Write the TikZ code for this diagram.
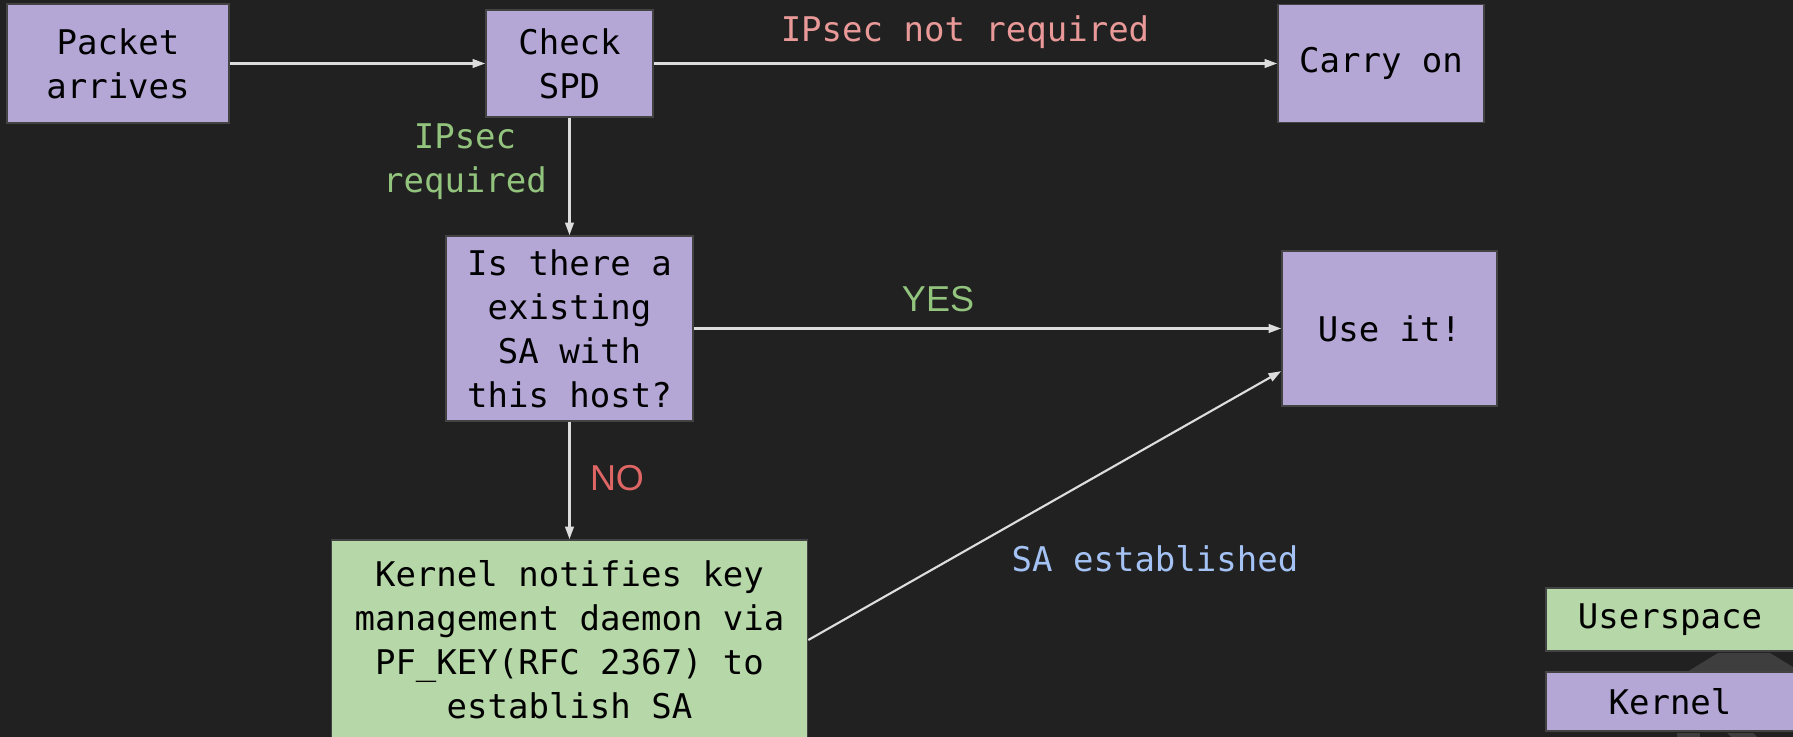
\documentclass[tikz,border=0pt]{standalone}
\usepackage{fontspec}
\usetikzlibrary{arrows.meta}
\newfontfamily\dejamono{DejaVu Sans Mono}
\newfontfamily\libsans{Liberation Sans}
\definecolor{bgcol}{HTML}{212121}
\definecolor{kernelcol}{HTML}{B4A7D6}
\definecolor{usercol}{HTML}{B6D7A8}
\definecolor{boxedge}{HTML}{434343}
\definecolor{arrowcol}{HTML}{DDDDDD}
\definecolor{notreq}{HTML}{EA9999}
\definecolor{yescol}{HTML}{93C47D}
\definecolor{nocol}{HTML}{E06666}
\definecolor{sacol}{HTML}{A4C2F4}
\definecolor{shadecol}{HTML}{3E3E3E}
\tikzset{
	kbox/.style={draw=boxedge, line width=1.2pt, fill=kernelcol, align=center, inner sep=0pt,
		font=\dejamono\fontsize{25.5}{33}\selectfont},
	ubox/.style={kbox, fill=usercol},
	flow/.style={->, draw=arrowcol, line width=1.6pt},
	lbl/.style={font=\dejamono\fontsize{25.5}{33}\selectfont, align=center},
	yn/.style={font=\libsans\fontsize{27}{32}\selectfont}
}
\begin{document}
\begin{tikzpicture}[x=0.75pt, y=-0.75pt, >={Triangle[length=9.5pt,width=6.5pt]}]
		\fill [bgcol] (0,0) rectangle (1793,737);
		\useasboundingbox (0,0) rectangle (1793,737);
		\clip (0,0) rectangle (1793,737);
		% flow boxes
		\node [kbox, minimum width=166.5pt, minimum height=89.25pt] (pa) at (118,63.5) {Packet\\arrives};
		\node [kbox, minimum width=125.25pt, minimum height=80.25pt] (spd) at (569.5,63.5) {Check\\SPD};
		\node [kbox, minimum width=154.5pt, minimum height=88.5pt] (carry) at (1381,63.5) {Carry on};
		\node [kbox, minimum width=185.25pt, minimum height=138.75pt] (sa) at (569.5,328.5) {Is there a\\existing\\SA with\\this host?};
		\node [kbox, minimum width=161.25pt, minimum height=116.25pt] (use) at (1389.5,328.5) {Use it!};
		\node [ubox, minimum width=357pt, minimum height=150pt] (kern) at (569.5,640) {Kernel notifies key\\management daemon via\\PF\_KEY(RFC 2367) to\\establish SA};
		% legend
		\fill [shadecol] (1687,672) -- (1718,653) -- (1770,653) -- (1801,672) -- cycle;
		\fill [shadecol] (1677,733) rectangle (1700,737);
		\fill [shadecol] (1727,733) -- (1753,733) -- (1757,737) -- (1731,737) -- cycle;
		\node [ubox, minimum width=186pt, minimum height=47.25pt] (uleg) at (1670,619.5) {Userspace};
		\node [kbox, minimum width=186pt, minimum height=44.25pt] (kleg) at (1670,701.5) {Kernel};
		% connectors
		\draw [flow] (pa) -- (spd);
		\draw [flow] (spd) -- (carry);
		\draw [flow] (spd) -- (sa);
		\draw [flow] (sa) -- (use);
		\draw [flow] (sa) -- (kern);
		\draw [flow] (kern.east) -- ([yshift=-32pt]use.west);
		% labels
		\node [lbl, text=notreq, anchor=base] (lnotreq) at (965,42) {IPsec not required};
		\node [lbl, text=yescol] (lreq) at (465,161.5) {IPsec\\required};
		\node [yn, text=yescol] (lyes) at (938,299) {YES};
		\node [yn, text=nocol] (lno) at (617,478) {NO};
		\node [lbl, text=sacol, anchor=base] (lsa) at (1155,572) {SA established};
\end{tikzpicture}
\end{document}
